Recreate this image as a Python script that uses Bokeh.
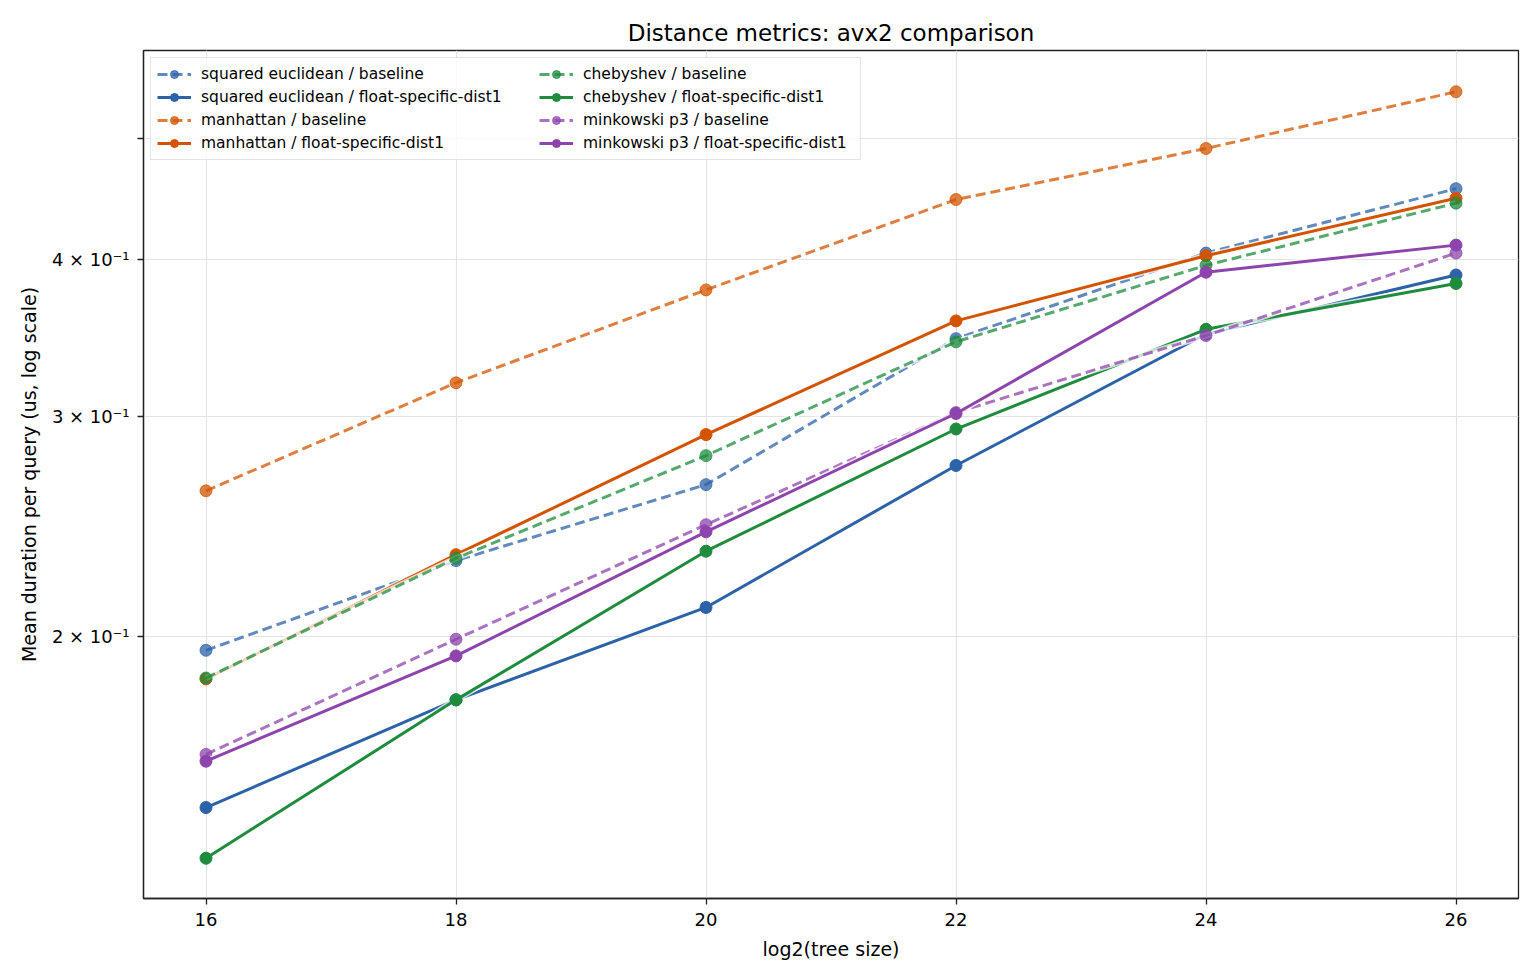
from bokeh.plotting import figure
from bokeh.models import (Range1d, FixedTicker, Legend, LegendItem)
from bokeh.embed import file_html
from bokeh.resources import INLINE

# log2 of the tree size
tree_log2 = [16, 18, 20, 22, 24, 26]

# mean duration per query (us)
sqeuclid_baseline = [0.195, 0.230, 0.2645, 0.346, 0.405, 0.456]
sqeuclid_float = [0.146, 0.178, 0.211, 0.274, 0.349, 0.389]
manhattan_baseline = [0.2615, 0.319, 0.3785, 0.447, 0.491, 0.545]
manhattan_float = [0.185, 0.2325, 0.290, 0.3575, 0.403, 0.448]
chebyshev_baseline = [0.1853, 0.231, 0.279, 0.344, 0.396, 0.444]
chebyshev_float = [0.133, 0.178, 0.234, 0.293, 0.352, 0.383]
minkowski_baseline = [0.161, 0.199, 0.2457, 0.302, 0.348, 0.405]
minkowski_float = [0.159, 0.193, 0.2425, 0.3015, 0.391, 0.411]

y_ticks = [0.2, 0.3, 0.4, 0.5]
y_tick_labels = ["2 × 10⁻¹", "3 × 10⁻¹", "4 × 10⁻¹", ""]

series = [
    ("squared euclidean / baseline", sqeuclid_baseline, "#2c62a8", True),
    ("squared euclidean / float-specific-dist1", sqeuclid_float, "#2c62a8", False),
    ("manhattan / baseline", manhattan_baseline, "#d35400", True),
    ("manhattan / float-specific-dist1", manhattan_float, "#d35400", False),
    ("chebyshev / baseline", chebyshev_baseline, "#1e8c3c", True),
    ("chebyshev / float-specific-dist1", chebyshev_float, "#1e8c3c", False),
    ("minkowski p3 / baseline", minkowski_baseline, "#8e44ad", True),
    ("minkowski p3 / float-specific-dist1", minkowski_float, "#8e44ad", False),
]

FONT = "DejaVu Sans"

p = figure(width=1540, height=980, y_axis_type="log",
           output_backend="svg", toolbar_location=None,
           x_range=Range1d(15.5, 26.5), y_range=Range1d(0.1235, 0.588),
           min_border_left=143, min_border_right=22,
           min_border_top=50, min_border_bottom=82)

p.title.text = "Distance metrics: avx2 comparison"
p.title.align = "center"
p.title.text_font = FONT
p.title.text_font_size = "23px"
p.title.text_font_style = "normal"
p.title.text_color = "black"
p.title.offset = 0
p.title.standoff = 10

p.xaxis.ticker = FixedTicker(ticks=tree_log2, minor_ticks=[])
p.yaxis.ticker = FixedTicker(ticks=y_ticks, minor_ticks=[])
p.yaxis.major_label_overrides = dict(zip(y_ticks, y_tick_labels))

p.xaxis.axis_label = "log2(tree size)"
p.yaxis.axis_label = "Mean duration per query (us, log scale)"

for ax in (p.xaxis[0], p.yaxis[0]):
    ax.axis_label_text_font = FONT
    ax.axis_label_text_font_size = "19px"
    ax.axis_label_text_font_style = "normal"
    ax.axis_label_text_color = "black"
    ax.major_label_text_font = FONT
    ax.major_label_text_font_size = "18px"
    ax.major_label_text_color = "black"
    ax.axis_line_color = "#222222"
    ax.axis_line_width = 1.3
    ax.major_tick_line_color = "#222222"
    ax.major_tick_line_width = 1.3
    ax.major_tick_out = 6
    ax.major_tick_in = 0
    ax.minor_tick_line_color = None
    ax.major_label_standoff = 8
    ax.axis_label_standoff = 9

p.outline_line_color = "#222222"
p.outline_line_width = 1.3
p.outline_line_alpha = 1.0

p.xgrid.grid_line_color = "#e3e3e3"
p.ygrid.grid_line_color = "#e3e3e3"
p.xgrid.grid_line_width = 1.2
p.ygrid.grid_line_width = 1.2

items = {}
for label, values, color, is_baseline in series:
    alpha = 0.75 if is_baseline else 1.0
    dash = "10 5" if is_baseline else "solid"
    # light halo under each line
    p.line(tree_log2, values, line_color="white", line_width=6, line_alpha=0.75)
    ln = p.line(tree_log2, values, line_color=color, line_width=3,
                line_alpha=alpha, line_dash=dash)
    mk = p.scatter(tree_log2, values, size=12, marker="circle",
                   fill_color=color, fill_alpha=alpha,
                   line_color=color, line_alpha=alpha, line_width=1)
    items[label] = [ln, mk]

order = [s[0] for s in series]
left_col = order[:4]
right_col = order[4:]


def style_legend(lg):
    lg.label_text_font = FONT
    lg.label_text_font_size = "15.5px"
    lg.label_text_color = "black"
    lg.glyph_width = 34
    lg.glyph_height = 20
    lg.label_height = 20
    lg.label_standoff = 10
    lg.spacing = 3
    lg.padding = 6


# framed legend holding the first column; its label width spans both columns
legend_a = Legend(items=[LegendItem(label=k, renderers=items[k]) for k in left_col],
                  location="top_left")
style_legend(legend_a)
legend_a.margin = 7
legend_a.label_width = 653
legend_a.border_line_color = "#cccccc"
legend_a.border_line_width = 1
legend_a.background_fill_alpha = 0.8
p.add_layout(legend_a)

# second column, drawn on top of the framed box without its own frame
legend_b = Legend(items=[LegendItem(label=k, renderers=items[k]) for k in right_col],
                  location=(396, 745))
style_legend(legend_b)
legend_b.margin = 0
legend_b.border_line_color = None
legend_b.background_fill_alpha = 0.0
p.add_layout(legend_b)

open("out.html", "w").write(file_html(p, INLINE))
